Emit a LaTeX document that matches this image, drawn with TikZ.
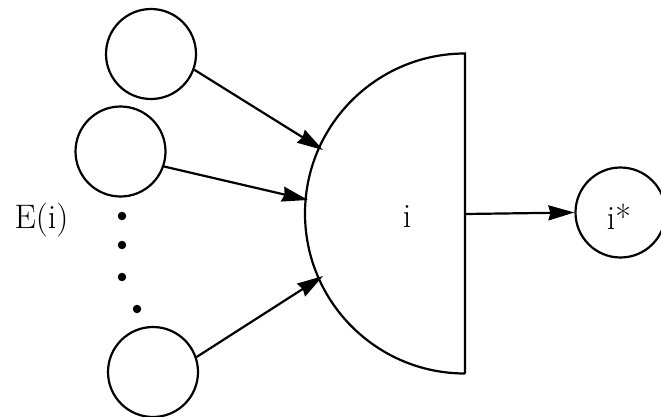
\documentclass[tikz,border=0pt]{standalone}
\usetikzlibrary{arrows.meta}
\begin{document}
\begin{tikzpicture}[x=1pt,y=-1pt,
  unit/.style={circle,draw,line width=2.2pt,minimum size=90pt,inner sep=0pt},
  conn/.style={line width=2.2pt,-{Stealth[length=26pt,width=15pt,inset=2pt]}},
  lbl/.style={anchor=base,inner sep=0pt,font=\fontsize{34}{40}\selectfont},
  dot/.style={circle,fill,minimum size=8.5pt,inner sep=0pt}]
\useasboundingbox (0,0) rectangle (661,416);
% input units
\node[unit] (c1) at (151,54) {};
\node[unit] (c2) at (120.5,151.5) {};
\node[unit] (c3) at (153,372) {};
% dots
\node[dot] (d1) at (122,216) {};
\node[dot] (d2) at (122,245) {};
\node[dot] (d3) at (122,277) {};
\node[dot] (d4) at (137,309) {};
% label
\node[lbl] (E) at (41.5,228) {E(i)};
% half disk unit
\coordinate (gtop) at (465,53.5);
\coordinate (gbot) at (465,373.5);
\draw[line width=2.2pt,line join=miter] (gbot) -- (gtop) arc[start angle=270,end angle=90,radius=160];
\node[lbl] (i) at (407,227) {i};
% arrow targets on the arc
\coordinate (t1) at (323,150);
\coordinate (t2) at (308,200);
\coordinate (t3) at (323,276);
\coordinate (gout) at (465,214);
% output unit
\node[unit] (o) at (620.5,212.5) {};
\node[lbl] (istar) at (619,229) {i*};
% connectors
\draw[conn] (c1.-20) -- (t1);
\draw[conn] (c2.-19) -- (t2);
\draw[conn] (c3.19) -- (t3);
\draw[conn] (gout) -- (o.west);
\end{tikzpicture}
\end{document}
